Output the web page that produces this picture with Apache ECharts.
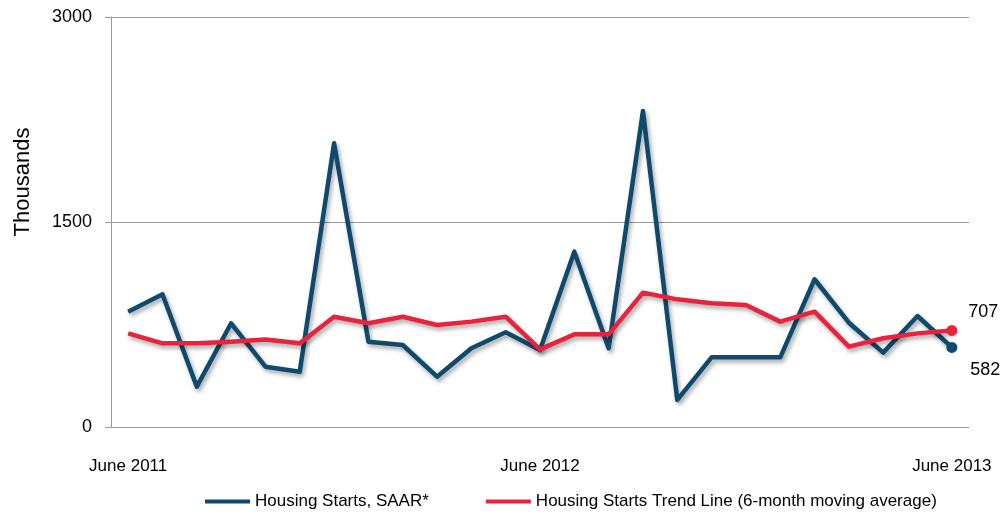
<!DOCTYPE html>
<html>
<head>
<meta charset="utf-8">
<script src="https://cdn.jsdelivr.net/npm/echarts@6/dist/echarts.min.js"></script>
<style>
  html, body { margin: 0; padding: 0; background: #fff; }
  #chart { width: 1006px; height: 516px; }
</style>
</head>
<body>
<div id="chart"></div>
<script>
// months June 2011 .. June 2013
const months = [
  'June 2011', 'Jul 2011', 'Aug 2011', 'Sep 2011', 'Oct 2011', 'Nov 2011', 'Dec 2011',
  'Jan 2012', 'Feb 2012', 'Mar 2012', 'Apr 2012', 'May 2012', 'June 2012',
  'Jul 2012', 'Aug 2012', 'Sep 2012', 'Oct 2012', 'Nov 2012', 'Dec 2012',
  'Jan 2013', 'Feb 2013', 'Mar 2013', 'Apr 2013', 'May 2013', 'June 2013'
];
const housingStarts = [843, 971, 295, 759, 441, 405, 2076, 624, 600, 368, 576, 693, 563,
  1283, 576, 2312, 198, 510, 510, 510, 1081, 763, 544, 812, 582];
const trendLine = [685, 612, 612, 624, 641, 612, 807, 759, 807, 746, 771, 807, 568,
  678, 678, 983, 934, 905, 893, 771, 844, 588, 649, 685, 707];
const yTicks = [0, 1500, 3000];

const BLUE = '#0d4a6e';
const RED = '#e8233d';
const lastIdx = months.length - 1;

const chart = echarts.init(document.getElementById('chart'));

const shadow = {
  shadowColor: 'rgba(0,0,0,0.35)',
  shadowBlur: 4,
  shadowOffsetX: 2,
  shadowOffsetY: 3
};

const withEndLabel = (values, color, offset) => values.map((v, i) => {
  if (i !== lastIdx) return v;
  return {
    value: v,
    symbol: 'circle',
    symbolSize: 11,
    itemStyle: { color: color },
    label: {
      show: true,
      position: 'right',
      offset: offset,
      color: '#000',
      fontSize: 18,
      fontFamily: 'Liberation Sans'
    }
  };
});

chart.setOption({
  animation: false,
  textStyle: { fontFamily: 'Liberation Sans' },
  grid: { left: 111, right: 37, top: 17, bottom: 89 },
  legend: {
    left: 200,
    top: 488,
    icon: 'rect',
    itemWidth: 45,
    itemHeight: 4,
    itemGap: 57,
    textStyle: { fontSize: 17, color: '#000', fontFamily: 'Liberation Sans' },
    data: ['Housing Starts, SAAR*', 'Housing Starts Trend Line (6-month moving average)']
  },
  graphic: [{
    type: 'text',
    x: 12,
    y: 182,
    rotation: Math.PI / 2,
    style: {
      text: 'Thousands',
      fontSize: 22,
      fontFamily: 'Liberation Sans',
      fill: '#000',
      align: 'center',
      verticalAlign: 'top'
    }
  }],
  xAxis: {
    type: 'category',
    data: months,
    boundaryGap: true,
    axisLine: { show: false },
    axisTick: { show: false },
    axisLabel: {
      interval: (i) => i % 12 === 0,
      margin: 31,
      fontSize: 17,
      color: '#000'
    }
  },
  yAxis: {
    type: 'value',
    min: 0,
    max: 3000,
    interval: 1500,
    axisLine: { show: true, lineStyle: { color: '#9a9a9a', width: 1 } },
    axisTick: { show: true, inside: false, length: 6, lineStyle: { color: '#9a9a9a' } },
    splitLine: { show: true, lineStyle: { color: '#9a9a9a', width: 1 } },
    axisLabel: {
      margin: 19,
      fontSize: 18,
      color: '#000',
      formatter: (v) => yTicks.includes(v) ? String(v) : ''
    }
  },
  series: [
    {
      name: 'Housing Starts, SAAR*',
      type: 'line',
      data: withEndLabel(housingStarts, BLUE, [8, 23]),
      showSymbol: true,
      symbol: 'none',
      color: BLUE,
      lineStyle: Object.assign({ color: BLUE, width: 4.5, join: 'round' }, shadow),
      z: 2
    },
    {
      name: 'Housing Starts Trend Line (6-month moving average)',
      type: 'line',
      data: withEndLabel(trendLine, RED, [6, -18]),
      showSymbol: true,
      symbol: 'none',
      color: RED,
      lineStyle: Object.assign({ color: RED, width: 4.5, join: 'round' }, shadow),
      z: 3
    }
  ]
});
</script>
</body>
</html>
